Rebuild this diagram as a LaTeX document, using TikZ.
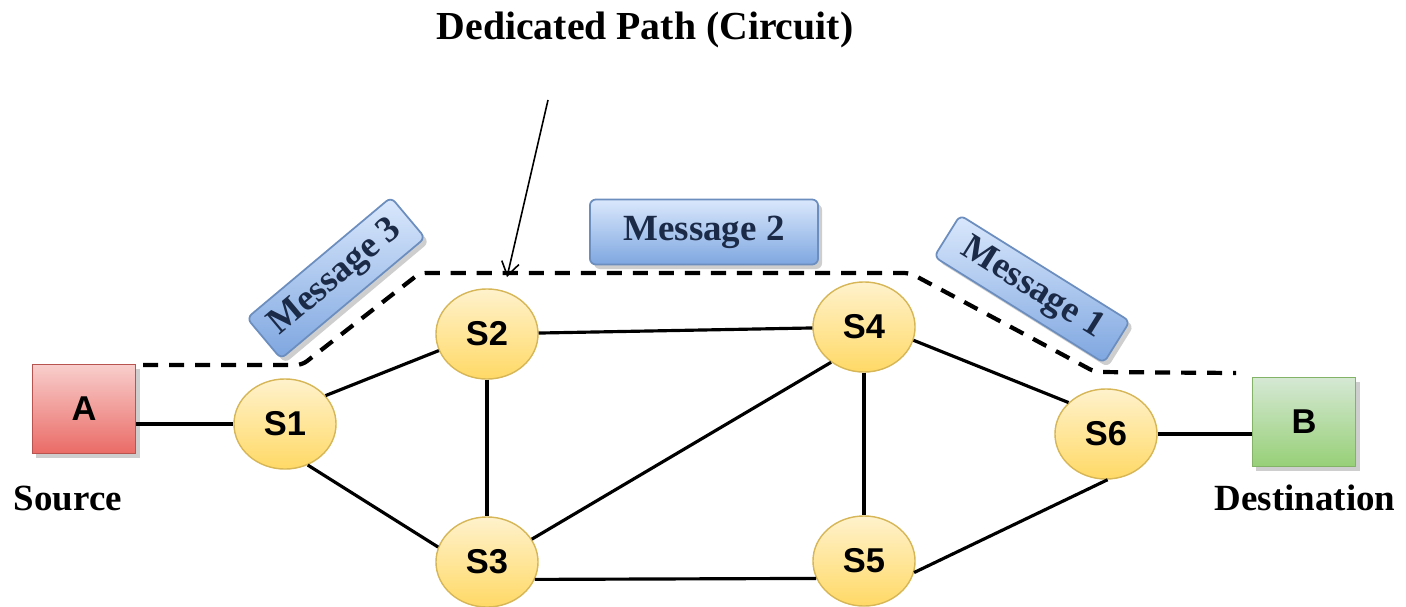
\documentclass[tikz,border=0pt]{standalone}
\usepackage{fontspec}
\setmainfont{Liberation Serif}
\setsansfont{Liberation Sans}
\usetikzlibrary{shadows,arrows.meta,shapes.geometric}

\definecolor{swTop}{HTML}{FFF2CC}
\definecolor{swBot}{HTML}{FFD966}
\definecolor{swLine}{HTML}{D6B656}
\definecolor{srcTop}{HTML}{F8CECC}
\definecolor{srcBot}{HTML}{EA6B66}
\definecolor{srcLine}{HTML}{B85450}
\definecolor{dstTop}{HTML}{D5E8D4}
\definecolor{dstBot}{HTML}{97D077}
\definecolor{dstLine}{HTML}{82B366}
\definecolor{msgTop}{HTML}{DAE8FC}
\definecolor{msgBot}{HTML}{7EA6E0}
\definecolor{msgLine}{HTML}{6C8EBF}
\definecolor{msgText}{HTML}{1B2A47}

\tikzset{
  softshadow/.style={drop shadow={shadow xshift=0.04cm, shadow yshift=-0.045cm,
      opacity=0.35, fill=black!55}},
  switch/.style={ellipse, inner sep=0pt, minimum width=1.02cm, minimum height=0.90cm,
      top color=swTop, bottom color=swBot, draw=swLine, line width=0.4pt,
      font=\sffamily\bfseries\fontsize{9.8}{11}\selectfont},
  hostbox/.style={rectangle, inner sep=0pt, minimum width=1.03cm, minimum height=0.89cm,
      line width=0.5pt, softshadow,
      font=\sffamily\bfseries\fontsize{9.8}{11}\selectfont},
  msgbox/.style={rectangle, rounded corners=0.06cm, inner sep=0pt,
      top color=msgTop, bottom color=msgBot, draw=msgLine, line width=0.5pt,
      softshadow, text=msgText,
      font=\bfseries\fontsize{10.5}{12}\selectfont},
  caption/.style={anchor=base, inner sep=0pt, font=\bfseries\fontsize{10.5}{12}\selectfont},
  link/.style={line width=0.9pt, black},
  circuit/.style={line width=1.2pt, black, dash pattern=on 4.3pt off 3.1pt,
      rounded corners=0.06cm},
  pointer/.style={line width=0.45pt, -{Straight Barb[length=3.8pt,width=5pt]}},
}

\begin{document}
\begin{tikzpicture}[x=0.01cm, y=-0.01cm]
  \useasboundingbox (0,0) rectangle (1406,606);

  % end hosts
  \node[hostbox, top color=srcTop, bottom color=srcBot, draw=srcLine] (A) at (84,409) {A};
  \node[hostbox, top color=dstTop, bottom color=dstBot, draw=dstLine] (B) at (1304,422) {B};

  % switches
  \node[switch] (S1) at (285,424) {S1};
  \node[switch] (S2) at (487,334) {S2};
  \node[switch] (S3) at (487,562) {S3};
  \node[switch] (S4) at (864,327) {S4};
  \node[switch] (S5) at (864,561) {S5};
  \node[switch] (S6) at (1106,434) {S6};

  % links
  \draw[link] (S1.west -| A.east) -- (S1.west);
  \draw[link] (S1.35) -- (S2.199);
  \draw[link] (S1.-61) -- (S3.163);
  \draw[link] (S2) -- (S4);
  \draw[link] (S2) -- (S3);
  \draw[link] (S3.27) -- (S4.227);
  \draw[link] (S3.-20) -- (S5.200);
  \draw[link] (S4) -- (S5);
  \draw[link] (S4.-15) -- (S6.140);
  \draw[link] (S5.-13) -- (S6.-88);
  \draw[link] (S6.east) -- (S6.east -| B.west);

  % dedicated circuit
  \coordinate (c0) at (143,365);
  \coordinate (c1) at (302,365);
  \coordinate (c2) at (420,273);
  \coordinate (c3) at (910,273);
  \coordinate (c4) at (1095,372);
  \coordinate (c5) at (1236,373);
  \draw[circuit] (c0) -- (c1) -- (c2) -- (c3) -- (c4) -- (c5);

  % messages in transit
  \node[msgbox, minimum width=1.88cm, minimum height=0.53cm, rotate=40] (m3) at (336,278) {Message 3};
  \node[msgbox, minimum width=2.28cm, minimum height=0.65cm] (m2) at (704,232) {Message 2};
  \node[msgbox, minimum width=2.00cm, minimum height=0.49cm, rotate=-32] (m1) at (1032,289) {Message 1};

  % labels
  \node[caption] (src) at (68,510) {Source};
  \node[caption] (dst) at (1305,510) {Destination};
  \node[caption, font=\bfseries\fontsize{11.3}{13}\selectfont] (title) at (645,40) {Dedicated Path (Circuit)};

  % pointer to the circuit
  \coordinate (pTail) at (548,100);
  \coordinate (pTip) at (507,277);
  \draw[pointer] (pTail) -- (pTip);
\end{tikzpicture}
\end{document}
